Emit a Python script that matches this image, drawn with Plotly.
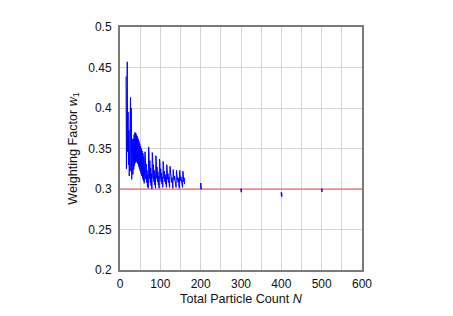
import plotly.graph_objects as go

# Dense region: N = 15..160
n_dense = list(range(15, 161))
w_dense = [
    # N 15-30
    0.439, 0.325, 0.420, 0.457, 0.346, 0.395, 0.330, 0.372, 0.316, 0.385, 0.335, 0.413, 0.322, 0.400, 0.312, 0.362,
    # N 31-60
    0.355, 0.318, 0.362, 0.324, 0.367, 0.329, 0.370, 0.332, 0.369, 0.334,
    0.367, 0.333, 0.365, 0.331, 0.362, 0.328, 0.359, 0.325, 0.356, 0.322,
    0.353, 0.319, 0.350, 0.316, 0.347, 0.313, 0.344, 0.310, 0.340, 0.307,
    # N 61
    0.326,
    # N 62-70
    0.346, 0.339, 0.312, 0.331, 0.308, 0.323, 0.303, 0.318, 0.301,
    # N 71-79
    0.352, 0.344, 0.313, 0.335, 0.308, 0.326, 0.304, 0.319, 0.300,
    # N 80-88
    0.345, 0.338, 0.313, 0.330, 0.309, 0.323, 0.305, 0.317, 0.301,
    # N 89-97
    0.341, 0.334, 0.313, 0.327, 0.309, 0.321, 0.305, 0.316, 0.301,
    # N 98-106
    0.337, 0.331, 0.313, 0.325, 0.309, 0.320, 0.306, 0.315, 0.302,
    # N 107-115
    0.334, 0.328, 0.313, 0.322, 0.309, 0.318, 0.306, 0.314, 0.302,
    # N 116-123
    0.330, 0.324, 0.312, 0.319, 0.308, 0.315, 0.305, 0.302,
    # N 124-131
    0.328, 0.322, 0.312, 0.317, 0.308, 0.314, 0.305, 0.301,
    # N 132-139
    0.324, 0.320, 0.311, 0.316, 0.308, 0.313, 0.305, 0.302,
    # N 140-147
    0.323, 0.319, 0.311, 0.315, 0.308, 0.313, 0.305, 0.301,
    # N 148-155
    0.323, 0.319, 0.310, 0.315, 0.307, 0.312, 0.305, 0.302,
    # N 156-160
    0.322, 0.318, 0.309, 0.314, 0.306,
]

# Sparse large-N values
n_sparse = [200, 201, None, 300, 301, None, 400, 401, None, 500, 501]
w_sparse = [0.3075, 0.2995, None, 0.3005, 0.2960, None, 0.2960, 0.2905, None, 0.3005, 0.2965]

# Reference level
n_ref = [0, 600]
w_ref = [0.3, 0.3]

x_ticks = [0, 100, 200, 300, 400, 500, 600]
y_ticks = [0.2, 0.25, 0.3, 0.35, 0.4, 0.45, 0.5]
y_labels = ["0.2", "0.25", "0.3", "0.35", "0.4", "0.45", "0.5"]

fig = go.Figure()
fig.add_trace(go.Scatter(x=n_ref, y=w_ref, mode="lines",
                         line=dict(color="#e05050", width=1), showlegend=False))
fig.add_trace(go.Scatter(x=n_dense, y=w_dense, mode="lines",
                         line=dict(color="#0000ff", width=1), showlegend=False))
fig.add_trace(go.Scatter(x=n_sparse, y=w_sparse, mode="lines", connectgaps=False,
                         line=dict(color="#0000ff", width=1.5), showlegend=False))

font_family = "Liberation Sans, Arial, sans-serif"
fig.update_layout(
    width=453, height=316,
    margin=dict(l=112, r=99, t=19, b=54),
    paper_bgcolor="white", plot_bgcolor="white",
    font=dict(family=font_family, size=12, color="#111111"),
    xaxis=dict(
        range=[0, 600], tickvals=x_ticks, ticktext=[str(v) for v in x_ticks],
        showgrid=True, gridcolor="#d4d4d4", gridwidth=1,
        minor=dict(dtick=50, showgrid=True, gridcolor="#d4d4d4", gridwidth=1, ticks=""),
        showline=True, linecolor="#7a7a7a", linewidth=2, mirror=True,
        ticks="", zeroline=False, ticklabelstandoff=2,
        title=dict(text="Total Particle Count <i>N</i>", standoff=4, font=dict(size=12.6)),
    ),
    yaxis=dict(
        range=[0.2, 0.5], tickvals=y_ticks, ticktext=y_labels,
        showgrid=True, gridcolor="#d4d4d4", gridwidth=1,
        showline=True, linecolor="#7a7a7a", linewidth=2, mirror=True,
        ticks="", zeroline=False, ticklabelstandoff=4,
        title=dict(text="Weighting Factor <i>w</i><sub>1</sub>", standoff=8, font=dict(size=12.6)),
    ),
)

fig.write_html("out.html")
